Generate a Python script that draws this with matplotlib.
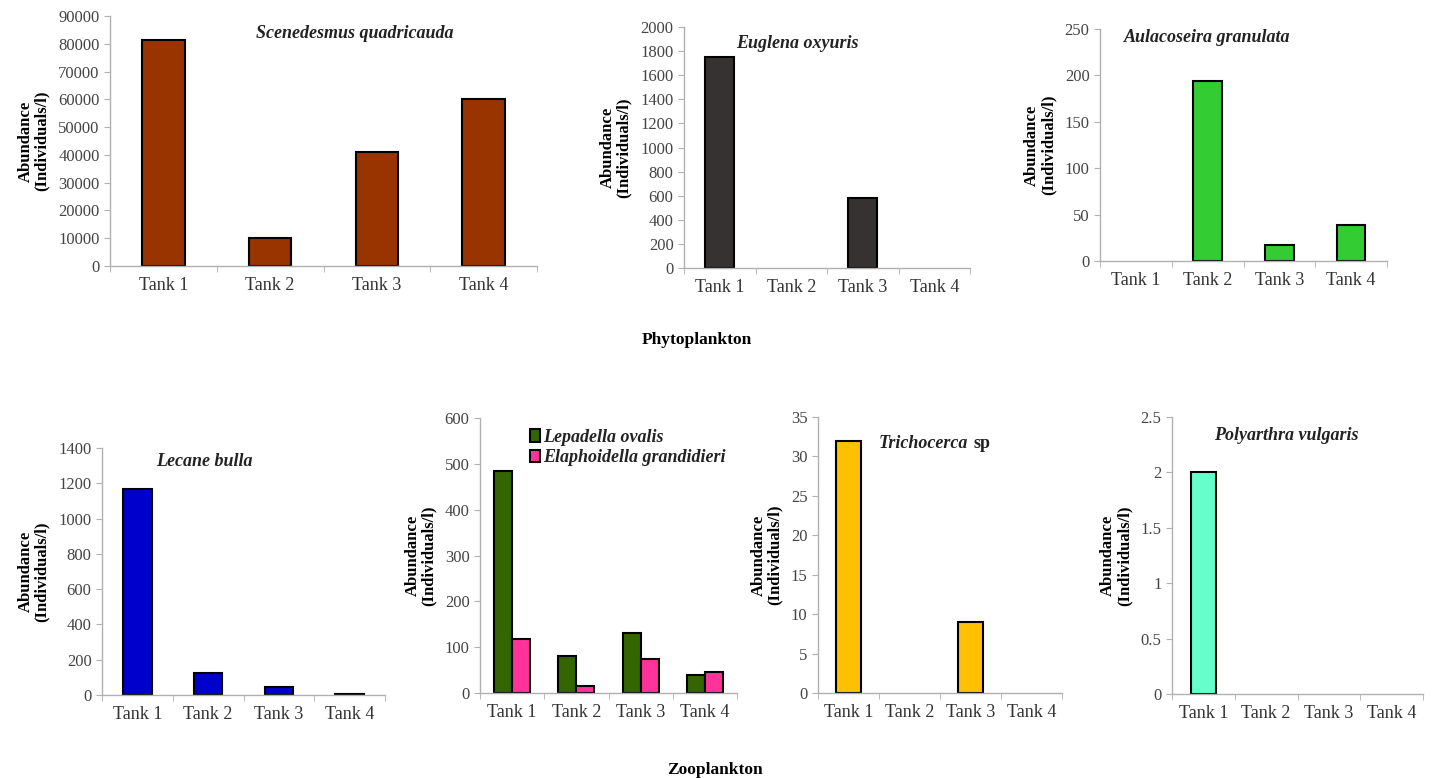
import numpy as np
import matplotlib.pyplot as plt
from matplotlib.ticker import FixedLocator

plt.rcParams['font.family'] = ['Liberation Serif', 'DejaVu Serif']

tanks = ['Tank 1', 'Tank 2', 'Tank 3', 'Tank 4']

scenedesmus = [81500, 10000, 41000, 60000]
euglena = [1750, 0, 580, 0]
aulacoseira = [0, 194, 17, 39]
lecane = [1168, 122, 45, 8]
lepadella = [485, 81, 130, 40]
elaphoidella = [118, 15, 74, 45]
trichocerca = [32, 0, 9, 0]
polyarthra = [2, 0, 0, 0]

W, H = 1432, 778
fig = plt.figure(figsize=(W / 100, H / 100), dpi=100)


def hide_zero(bars):
    # empty bars have no outline in the original
    for b in bars:
        if b.get_height() == 0:
            b.set_visible(False)


def make_ax(left, right, top, bottom):
    ax = fig.add_axes([left / W, 1 - bottom / H, (right - left) / W, (bottom - top) / H])
    for s in ['top', 'right']:
        ax.spines[s].set_visible(False)
    for s in ['left', 'bottom']:
        ax.spines[s].set_color('#b0b0b0')
        ax.spines[s].set_linewidth(1.0)
    x = np.arange(len(tanks))
    ax.set_xlim(-0.5, len(tanks) - 0.5)
    ax.set_xticks(x)
    ax.set_xticklabels(tanks, fontsize=13, color='#333333')
    ax.xaxis.set_minor_locator(FixedLocator(np.arange(-0.5, len(tanks), 1.0)))
    ax.tick_params(axis='x', which='major', length=0, pad=8)
    ax.tick_params(axis='x', which='minor', length=4, color='#b0b0b0', direction='out')
    ax.tick_params(axis='y', length=4, color='#b0b0b0', labelsize=12, labelcolor='#444444')
    ax.set_ylabel('Abundance\n(Individuals/l)', fontsize=12, fontweight='bold',
                  linespacing=1.0, labelpad=6)
    return ax, x


def single(left, right, top, bottom, vals, color, ymax, step, title, tx, ty, fmt=None):
    ax, x = make_ax(left, right, top, bottom)
    bars = ax.bar(x, vals, width=0.4, color=color, edgecolor='black', linewidth=1.5)
    hide_zero(bars)
    ax.set_ylim(0, ymax)
    ticks = np.arange(0, ymax + step / 2, step)
    ax.set_yticks(ticks)
    if fmt:
        ax.set_yticklabels([fmt(t) for t in ticks])
    if title:
        fig.text(tx / W, 1 - ty / H, title, fontsize=13, fontweight='bold', style='italic',
                 ha='center', va='center', color='#222222')
    return ax


def gfmt(t):
    return ('%g' % t)


single(110, 537, 16, 266, scenedesmus, '#993300', 90000, 10000,
       'Scenedesmus quadricauda', 355, 34)
single(684, 970, 27, 268, euglena, '#363232', 2000, 200,
       'Euglena oxyuris', 797, 43)
single(1100, 1387, 29, 261, aulacoseira, '#33CC33', 250, 50,
       'Aulacoseira granulata', 1207, 37)
single(102, 385, 448, 695, lecane, '#0000CC', 1400, 200,
       'Lecane bulla', 204, 462)

# two-species panel
ax, x = make_ax(480, 737, 418, 693)
bw = 0.28
b1 = ax.bar(x - bw / 2, lepadella, width=bw, color='#336600', edgecolor='black', linewidth=1.5,
            label='Lepadella ovalis')
b2 = ax.bar(x + bw / 2, elaphoidella, width=bw, color='#FF3399', edgecolor='black', linewidth=1.5,
            label='Elaphoidella grandidieri')
ax.set_ylim(0, 600)
ax.set_yticks(np.arange(0, 601, 100))
leg = ax.legend(loc='upper left', bbox_to_anchor=(0.13, 1.02), frameon=False,
                handlelength=0.6, handleheight=0.7, handletextpad=0.15, labelspacing=0.2,
                prop={'size': 13, 'weight': 'bold', 'style': 'italic'})
for t in leg.get_texts():
    t.set_color('#222222')

single(818, 1062, 417, 693, trichocerca, '#FFC000', 35, 5, '', 936, 443)
fig.text(968 / W, 1 - 443 / H, 'Trichocerca', fontsize=13, fontweight='bold', style='italic',
         ha='right', va='center', color='#222222')
fig.text(973 / W, 1 - 443 / H, 'sp', fontsize=13, fontweight='bold',
         ha='left', va='center', color='#222222')

single(1172, 1423, 417, 694, polyarthra, '#66FFCC', 2.5, 0.5,
       'Polyarthra vulgaris', 1286, 435, fmt=gfmt)

fig.text(697 / W, 1 - 340 / H, 'Phytoplankton', fontsize=12.5, fontweight='bold',
         ha='center', va='center')
fig.text(715 / W, 1 - 770 / H, 'Zooplankton', fontsize=12.5, fontweight='bold',
         ha='center', va='center')

fig.savefig('out.png', dpi=100)
